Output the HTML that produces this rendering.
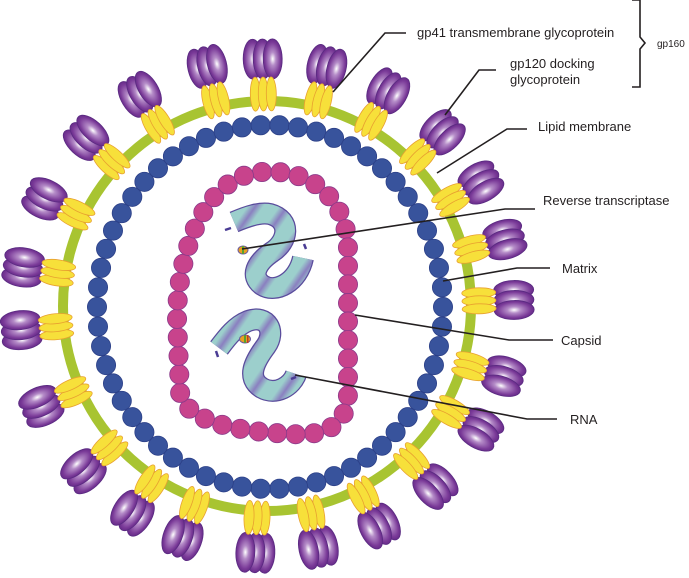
<!DOCTYPE html>
<html><head><meta charset="utf-8"><style>
html,body{margin:0;padding:0;background:#fff;}
svg{display:block;}
text{font-family:"Liberation Sans",sans-serif;fill:#231f20;}
</style></head><body>
<svg id="s" width="689" height="578" viewBox="0 0 689 578" xmlns="http://www.w3.org/2000/svg">
<defs>
<radialGradient id="ph" cx="0.5" cy="0.5" r="0.55">
<stop offset="0" stop-color="#ffffff"/><stop offset="0.3" stop-color="#b58cc8"/><stop offset="0.75" stop-color="#7a3a98"/><stop offset="1" stop-color="#5c2480"/>
</radialGradient>
<linearGradient id="sg" x1="0" y1="0" x2="1" y2="0">
<stop offset="0" stop-color="#9ccfcc"/><stop offset="0.35" stop-color="#9ccfcc"/><stop offset="0.6" stop-color="#8a7fc0"/><stop offset="0.85" stop-color="#9ccfcc"/><stop offset="1" stop-color="#9ccfcc"/>
</linearGradient>
<pattern id="st" width="26" height="26" patternUnits="userSpaceOnUse" patternTransform="rotate(35)">
<rect width="26" height="26" fill="url(#sg)"/>
</pattern>
</defs>
<g id="spikes"></g>
<ellipse cx="267" cy="306" rx="204" ry="205" fill="none" stroke="#a8c431" stroke-width="10"/>
<g id="yel"></g>
<g id="blue"></g>
<path id="cap" d="M262,172 C322,168 348,210 348,250 L348,392 C348,428 322,436 292,434 C245,432 185,424 180,392 L177,318 C177,262 200,176 262,172 Z" fill="none" stroke="none"/>
<g id="pink"></g>
<!-- RNA -->
<g fill="none" stroke-linecap="butt" stroke-linejoin="round">
<path d="M234,222 C248,216 260,212 270,214 C292,220 288,242 272,252 C256,263 250,276 262,285 C276,294 298,282 303,258" stroke="#5a4c9c" stroke-width="22"/>
<path d="M234,222 C248,216 260,212 270,214 C292,220 288,242 272,252 C256,263 250,276 262,285 C276,294 298,282 303,258" stroke="url(#st)" stroke-width="19.5"/>
<path d="M219,348 C228,336 236,326 248,321 C268,314 276,332 266,346 C254,362 246,378 262,388 C276,396 292,386 296,374" stroke="#5a4c9c" stroke-width="22"/>
<path d="M219,348 C228,336 236,326 248,321 C268,314 276,332 266,346 C254,362 246,378 262,388 C276,396 292,386 296,374" stroke="url(#st)" stroke-width="19.5"/>
</g>
<g stroke="#4a3c94" stroke-width="2.5">
<line x1="225" y1="230" x2="231" y2="228"/><line x1="304" y1="244" x2="306" y2="249"/>
<line x1="216" y1="351" x2="218" y2="357"/><line x1="291" y1="379" x2="296" y2="377"/>
</g>
<g>
<ellipse cx="243" cy="250" rx="5" ry="4" fill="#e8a020" stroke="#6a5aa0"/>
<rect x="242" y="246" width="2" height="8" fill="#5aa030"/>
<ellipse cx="245" cy="339" rx="5.5" ry="4" fill="#e8a020" stroke="#6a5aa0"/>
<rect x="244" y="335" width="2" height="8" fill="#5aa030"/><rect x="247" y="335" width="1.5" height="8" fill="#c04020"/>
</g>
<!-- leaders -->
<g fill="none" stroke="#231f20" stroke-width="1.6">
<polyline points="406,33 385,33 333,92"/>
<polyline points="496,70 479,70 445,115"/>
<polyline points="527,129 507,129 437,173"/>
<polyline points="535,209 505,209 242,249"/>
<polyline points="550,268 517,268 443,281"/>
<polyline points="553,340 509,340 355,315"/>
<polyline points="557,419 527,419 295,375"/>
<path d="M632,0 L640,0 L640,37 L645,43 L640,49 L640,87 L632,87"/>
</g>
<g font-size="13">
<text x="417" y="37">gp41 transmembrane glycoprotein</text>
<text x="510" y="68">gp120 docking</text>
<text x="510" y="84">glycoprotein</text>
<text x="538" y="131">Lipid membrane</text>
<text x="543" y="205">Reverse transcriptase</text>
<text x="562" y="273">Matrix</text>
<text x="561" y="345">Capsid</text>
<text x="570" y="424">RNA</text>
</g>
<text x="657" y="47" font-size="10">gp160</text>
</svg>
<script>
var NS="http://www.w3.org/2000/svg";
function el(t,a,p){var e=document.createElementNS(NS,t);for(var k in a)e.setAttribute(k,a[k]);p.appendChild(e);return e;}
var cx=267,cy=306;
var angs=[-104,-91,-76,-60.6,-44.7,-30,-15.6,-1.4,16.5,30,47,63,78,92.7,110,123,138,156,174.4,189,205.7,222.9,239];
var sp=document.getElementById('spikes'),ye=document.getElementById('yel');
angs.forEach(function(a){
 var rot=a+90;
 var g=el('g',{transform:'translate('+cx+','+cy+') rotate('+rot+')'},sp);
 [-10,0,10].forEach(function(x){el('ellipse',{cx:x,cy:-247,rx:9.5,ry:20,fill:'url(#ph)',stroke:'#5a2a82','stroke-width':0.8},g);});
 var g2=el('g',{transform:'translate('+cx+','+cy+') rotate('+rot+')'},ye);
 [-8,0,8].forEach(function(x){el('ellipse',{cx:x,cy:-212,rx:5,ry:17,fill:'#f7e03a',stroke:'#e8a030','stroke-width':0.8},g2);});
});
var bl=document.getElementById('blue');
var N=58;
for(var i=0;i<N;i++){var t=i/N*2*Math.PI;
 el('circle',{cx:270+173*Math.cos(t),cy:307+182*Math.sin(t),r:9.6,fill:'#38539c',stroke:'#2c4088','stroke-width':0.8},bl);}
var cp=document.getElementById('cap'),L=cp.getTotalLength(),pk=document.getElementById('pink');
var M=40;
for(var j=0;j<M;j++){var p=cp.getPointAtLength(j/M*L);
 el('circle',{cx:p.x,cy:p.y,r:9.6,fill:'#c8438c',stroke:'#8a3a8a','stroke-width':0.8},pk);}
</script>
</body></html>
